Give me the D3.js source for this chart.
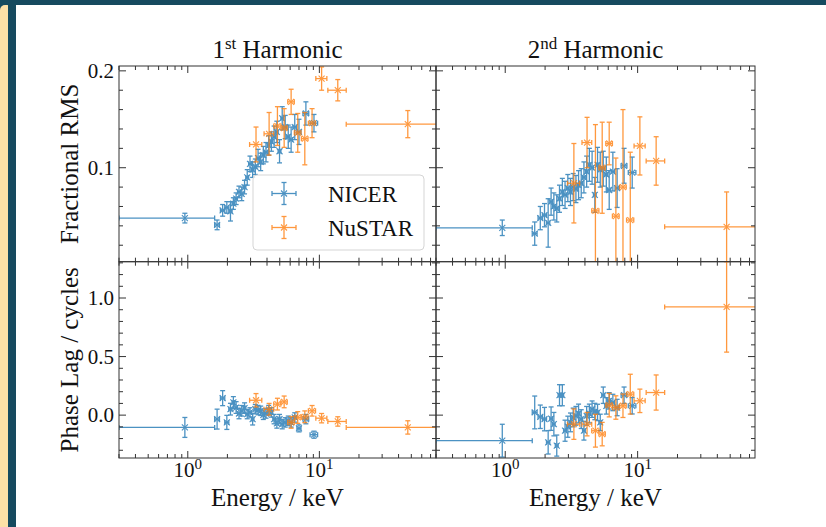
<!DOCTYPE html>
<html><head><meta charset="utf-8">
<script src="https://cdn.jsdelivr.net/npm/d3@7"></script>
<style>
html,body{margin:0;padding:0;background:#fff;}
svg{display:block;}
text{font-family:"Liberation Serif","DejaVu Serif",serif;fill:#111;}
</style></head><body>
<svg id="chart" width="826" height="527"></svg>
<script>
// ---------------- data ----------------
const nicerE    = [0.95,1.67,1.84,1.98,2.11,2.22,2.33,2.45,2.57,2.7,2.83,2.97,3.11,3.26,3.42,3.58,3.75,3.93,4.12,4.32,4.53,4.75,4.98,5.22,5.5,5.8,6.1,6.5,7.0,7.9,9.1];
const nicerEerr = [0.65,0.07,0.07,0.07,0.06,0.05,0.05,0.06,0.06,0.06,0.07,0.07,0.07,0.08,0.08,0.08,0.09,0.09,0.1,0.1,0.1,0.11,0.12,0.12,0.14,0.15,0.16,0.2,0.25,0.4,0.6];
const nicerRms1    = [0.048,0.041,0.056,0.059,0.055,0.063,0.068,0.075,0.073,0.080,0.090,0.104,0.098,0.101,0.110,0.106,0.113,0.116,0.123,0.127,0.132,0.137,0.117,0.151,0.142,0.132,0.129,0.142,0.137,0.156,0.146];
const nicerRms1Err = [0.005,0.005,0.006,0.006,0.01,0.006,0.006,0.006,0.007,0.007,0.008,0.008,0.008,0.008,0.009,0.009,0.009,0.01,0.01,0.01,0.011,0.011,0.012,0.012,0.012,0.012,0.013,0.013,0.013,0.012,0.009];
const nicerRms2    = [0.038,0.032,0.048,0.051,0.043,0.065,0.060,0.058,0.068,0.075,0.072,0.079,0.075,0.080,0.078,0.082,0.084,0.090,0.096,0.103,0.100,0.072,0.103,0.098,0.099,0.093,0.077,0.096,0.079,0.102,0.095];
const nicerRms2Err = [0.008,0.012,0.012,0.012,0.025,0.014,0.014,0.014,0.014,0.014,0.014,0.014,0.014,0.014,0.014,0.015,0.015,0.016,0.016,0.017,0.017,0.018,0.018,0.018,0.018,0.018,0.02,0.02,0.02,0.018,0.016];
const nicerLag1    = [-0.105,-0.034,0.145,-0.062,0.051,0.108,0.065,0.014,0.037,0.06,0.009,0.023,-0.034,0.051,0.043,0.037,0.003,0.014,0.043,0.023,-0.034,-0.071,-0.034,-0.077,-0.062,-0.048,-0.062,-0.02,-0.113,-0.034,-0.167];
const nicerLag1Err = [0.085,0.085,0.064,0.06,0.05,0.05,0.05,0.045,0.045,0.045,0.04,0.04,0.05,0.04,0.04,0.04,0.04,0.04,0.04,0.04,0.04,0.04,0.04,0.04,0.04,0.04,0.04,0.04,0.03,0.04,0.03];
const nicerLag2    = [-0.218,0.023,-0.014,-0.034,-0.232,-0.03,-0.077,-0.26,0.17,0.17,-0.133,-0.099,-0.062,-0.02,-0.006,0.014,-0.034,-0.133,-0.006,0.014,0.051,0.031,0.023,-0.062,0.17,0.079,0.122,0.108,0.065,0.17,0.08];
const nicerLag2Err = [0.14,0.14,0.1,0.1,0.1,0.1,0.1,0.09,0.09,0.09,0.09,0.09,0.08,0.08,0.08,0.08,0.08,0.08,0.08,0.08,0.07,0.07,0.07,0.07,0.07,0.07,0.07,0.07,0.07,0.07,0.07];

const nustarE    = [3.3,4.15,4.8,5.4,6.1,6.85,7.75,8.8,10.4,13.8,47];
const nustarEerr = [0.35,0.35,0.3,0.3,0.35,0.4,0.45,0.55,1.0,2.2,31];
const nustarRms1    = [0.124,0.135,0.143,0.141,0.168,0.136,0.130,0.146,0.192,0.180,0.145];
const nustarRms1Err = [0.018,0.022,0.02,0.02,0.013,0.02,0.027,0.015,0.012,0.011,0.014];
const nustarRms2    = [0.084,0.126,0.0555,0.100,0.125,0.050,0.080,0.046,0.1225,0.107,0.039];
const nustarRms2Err = [0.041,0.026,0.089,0.047,0.022,0.06,0.08,0.07,0.03,0.025,0.036];
const nustarLag1    = [0.127,0.05,0.094,0.113,-0.062,-0.02,-0.014,0.037,-0.026,-0.054,-0.105];
const nustarLag1Err = [0.057,0.05,0.05,0.05,0.05,0.05,0.05,0.045,0.04,0.04,0.057];
const nustarLag2    = [-0.077,-0.077,-0.133,-0.162,0.085,0.065,0.08,0.179,0.122,0.193,0.924];
const nustarLag2Err = [0.13,0.1,0.14,0.1,0.1,0.1,0.1,0.17,0.1,0.15,0.386];

const titles = [["1","st"," Harmonic"],["2","nd"," Harmonic"]];
const yLabels = ["Fractional RMS","Phase Lag / cycles"];
const xLabel = "Energy / keV";
const rmsTicks = [0.1,0.2], rmsTickLabels = ["0.1","0.2"];
const lagTicks = [0.0,0.5,1.0], lagTickLabels = ["0.0","0.5","1.0"];
const xTicks = [1,10], xTickExp = ["0","1"];
const seriesNames = ["NICER","NuSTAR"];
const colors = ["#1f77b4","#ff7f0e"];

// ---------------- layout ----------------
const svg = d3.select("#chart");
// screenshot frame
svg.append("rect").attr("x",0).attr("y",0).attr("width",826).attr("height",527).attr("fill","#164a5f");
svg.append("rect").attr("x",0).attr("y",5).attr("width",12).attr("height",540).attr("rx",5).attr("fill","#fde0a6");
svg.append("rect").attr("x",8).attr("y",5).attr("width",8).attr("height",522).attr("fill","#164a5f");
svg.append("rect").attr("x",16).attr("y",5).attr("width",810).attr("height",522).attr("fill","#ffffff");

const colX = [[119,436],[436,755]];
const rowY = [[66,261.7],[261.7,458]];
const xDomain = [0.3,77];
const yDomains = [[0.003,0.205],[-0.366,1.31]];

const panels = [
  {r:0,c:0, nic:[nicerRms1,nicerRms1Err], nus:[nustarRms1,nustarRms1Err]},
  {r:0,c:1, nic:[nicerRms2,nicerRms2Err], nus:[nustarRms2,nustarRms2Err]},
  {r:1,c:0, nic:[nicerLag1,nicerLag1Err], nus:[nustarLag1,nustarLag1Err]},
  {r:1,c:1, nic:[nicerLag2,nicerLag2Err], nus:[nustarLag2,nustarLag2Err]},
];

function drawErr(g, x, y, E, Eerr, V, Verr, color){
  const cap = 2.5;
  const grp = g.append("g").attr("stroke",color).attr("stroke-width",1.3).attr("fill","none").attr("opacity",0.8);
  E.forEach((e,i)=>{
    const px = x(e), py = y(V[i]);
    const xl = x(Math.max(e-Eerr[i],1e-3)), xr = x(e+Eerr[i]);
    const yt = y(V[i]+Verr[i]), yb = y(V[i]-Verr[i]);
    grp.append("line").attr("x1",xl).attr("x2",xr).attr("y1",py).attr("y2",py);
    grp.append("line").attr("x1",px).attr("x2",px).attr("y1",yt).attr("y2",yb);
    grp.append("line").attr("x1",px-cap).attr("x2",px+cap).attr("y1",yt).attr("y2",yt);
    grp.append("line").attr("x1",px-cap).attr("x2",px+cap).attr("y1",yb).attr("y2",yb);
    grp.append("line").attr("x1",xl).attr("x2",xl).attr("y1",py-cap).attr("y2",py+cap);
    grp.append("line").attr("x1",xr).attr("x2",xr).attr("y1",py-cap).attr("y2",py+cap);
    const m = 3;
    grp.append("path").attr("d",`M${px-m},${py-m}L${px+m},${py+m}M${px-m},${py+m}L${px+m},${py-m}`).attr("stroke-width",1.1);
  });
}

const minorX = [];
[0.1,1,10].forEach(d=>{for(let k=2;k<=9;k++){const v=k*d; if(v>=xDomain[0]&&v<=xDomain[1]) minorX.push(v);}});

panels.forEach((p,idx)=>{
  const [x0,x1] = colX[p.c], [y0,y1] = rowY[p.r];
  const x = d3.scaleLog().domain(xDomain).range([x0,x1]);
  const y = d3.scaleLinear().domain(yDomains[p.r]).range([y1,y0]);
  const cid = "clip"+idx;
  svg.append("clipPath").attr("id",cid).append("rect").attr("x",x0).attr("y",y0).attr("width",x1-x0).attr("height",y1-y0);
  const g = svg.append("g").attr("clip-path",`url(#${cid})`);
  drawErr(g,x,y,nicerE,nicerEerr,p.nic[0],p.nic[1],colors[0]);
  drawErr(g,x,y,nustarE,nustarEerr,p.nus[0],p.nus[1],colors[1]);

  const ax = svg.append("g");
  const tickC = "#333";
  xTicks.forEach(t=>{
    ax.append("line").attr("x1",x(t)).attr("x2",x(t)).attr("y1",y1).attr("y2",y1-7).attr("stroke",tickC);
    ax.append("line").attr("x1",x(t)).attr("x2",x(t)).attr("y1",y0).attr("y2",y0+7).attr("stroke",tickC);
  });
  minorX.forEach(t=>{
    ax.append("line").attr("x1",x(t)).attr("x2",x(t)).attr("y1",y1).attr("y2",y1-4).attr("stroke",tickC);
    ax.append("line").attr("x1",x(t)).attr("x2",x(t)).attr("y1",y0).attr("y2",y0+4).attr("stroke",tickC);
  });
  const major = p.r===0 ? rmsTicks : lagTicks;
  const step = p.r===0 ? 0.02 : 0.1;
  const dom = yDomains[p.r];
  const minors = d3.range(Math.ceil(dom[0]/step-1e-9), Math.floor(dom[1]/step+1e-9)+1).map(k=>+(k*step).toFixed(4));
  minors.forEach(t=>{
    const len = major.some(m=>Math.abs(m-t)<1e-6) ? 7 : 4;
    ax.append("line").attr("x1",x0).attr("x2",x0+len).attr("y1",y(t)).attr("y2",y(t)).attr("stroke",tickC);
    ax.append("line").attr("x1",x1).attr("x2",x1-len).attr("y1",y(t)).attr("y2",y(t)).attr("stroke",tickC);
  });
  ax.append("rect").attr("x",x0).attr("y",y0).attr("width",x1-x0).attr("height",y1-y0).attr("fill","none").attr("stroke",tickC).attr("stroke-width",1);

  if(p.c===0){
    const labs = p.r===0 ? rmsTickLabels : lagTickLabels;
    major.forEach((t,i)=>{
      ax.append("text").attr("x",x0-5).attr("y",y(t)).attr("dy","0.35em").attr("text-anchor","end").attr("font-size",21).text(labs[i]);
    });
    const cy = (y0+y1)/2;
    ax.append("text").attr("transform",`translate(78,${cy}) rotate(-90)`).attr("text-anchor","middle").attr("font-size",25).text(yLabels[p.r]);
  }
  if(p.r===1){
    xTicks.forEach((t,i)=>{
      const tx = ax.append("text").attr("x",x(t)).attr("y",y1+19).attr("text-anchor","middle").attr("font-size",21);
      tx.append("tspan").text("10");
      tx.append("tspan").attr("dy",-8).attr("font-size",15).text(xTickExp[i]);
    });
    ax.append("text").attr("x",(x0+x1)/2).attr("y",506).attr("text-anchor","middle").attr("font-size",25).text(xLabel);
  }
  if(p.r===0){
    const tt = ax.append("text").attr("x",(x0+x1)/2).attr("y",58).attr("text-anchor","middle").attr("font-size",25);
    tt.append("tspan").text(titles[p.c][0]);
    tt.append("tspan").attr("dy",-9).attr("font-size",17).text(titles[p.c][1]);
    tt.append("tspan").attr("dy",9).text(titles[p.c][2]);
  }
});

// legend
const lg = svg.append("g");
lg.append("rect").attr("x",253).attr("y",175).attr("width",171).attr("height",75).attr("rx",4)
  .attr("fill","#fff").attr("fill-opacity",0.8).attr("stroke","#d5d5d5");
seriesNames.forEach((n,i)=>{
  const cy = 193.5 + i*34, cx = 284;
  const g = lg.append("g").attr("stroke",colors[i]).attr("stroke-width",1.3).attr("opacity",0.8);
  g.append("line").attr("x1",cx-12).attr("x2",cx+12).attr("y1",cy).attr("y2",cy);
  g.append("line").attr("x1",cx).attr("x2",cx).attr("y1",cy-11).attr("y2",cy+11);
  g.append("line").attr("x1",cx-2.5).attr("x2",cx+2.5).attr("y1",cy-11).attr("y2",cy-11);
  g.append("line").attr("x1",cx-2.5).attr("x2",cx+2.5).attr("y1",cy+11).attr("y2",cy+11);
  g.append("line").attr("x1",cx-12).attr("x2",cx-12).attr("y1",cy-2.5).attr("y2",cy+2.5);
  g.append("line").attr("x1",cx+12).attr("x2",cx+12).attr("y1",cy-2.5).attr("y2",cy+2.5);
  g.append("path").attr("d",`M${cx-3},${cy-3}L${cx+3},${cy+3}M${cx-3},${cy+3}L${cx+3},${cy-3}`).attr("stroke-width",1.1);
  lg.append("text").attr("x",328).attr("y",cy).attr("dy","0.35em").attr("font-size",23).text(n);
});
</script>
</body></html>
